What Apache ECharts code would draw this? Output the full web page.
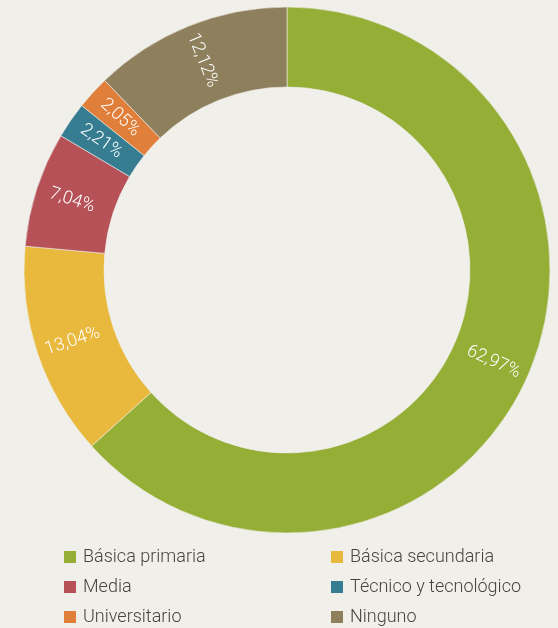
<!DOCTYPE html>
<html><head><meta charset="utf-8">
<script src="https://cdn.jsdelivr.net/npm/echarts@6/dist/echarts.min.js"></script>
<style>html,body{margin:0;padding:0;background:#f0efea}#c{width:558px;height:628px}</style>
</head><body><div id="c"></div>
<script>
const categories = ['Básica primaria','Básica secundaria','Media','Técnico y tecnológico','Universitario','Ninguno'];
const values = [62.97, 13.04, 7.04, 2.21, 2.05, 12.12];
const colors = ['#95ae36','#e8b93c','#b65257','#367d92','#e07f3a','#8e805c'];
const leftLegend = ['Básica primaria','Media','Universitario'];
const rightLegend = ['Básica secundaria','Técnico y tecnológico','Ninguno'];
const FONT = 'Roboto,sans-serif';
const chart = echarts.init(document.getElementById('c'));
const legendBase = {orient:'vertical', top:548, height:120, padding:0, itemWidth:14, itemHeight:14, itemGap:12, icon:'rect',
  textStyle:{fontFamily:FONT, fontSize:18, fontWeight:300, color:'#48443b', padding:[0,0,0,1]}};
chart.setOption({
  backgroundColor:'#f0efea',
  color: colors,
  legend:[Object.assign({left:62, data:leftLegend}, legendBase), Object.assign({left:329, data:rightLegend}, legendBase)],
  series:[{
    type:'pie', center:[287,270], radius:[183,263], startAngle:90, clockwise:true,
    avoidLabelOverlap:false,
    itemStyle:{borderColor:'#f0efea', borderWidth:0.6},
    label:{show:true, position:'inside', rotate:'radial', color:'#ffffff', fontFamily:FONT, fontSize:18, fontWeight:300,
      formatter:p=>p.value.toFixed(2).replace('.',',')+'%'},
    labelLine:{show:false},
    emphasis:{disabled:true},
    data: categories.map((c,i)=>({name:c, value:values[i]}))
  }]
});
</script></body></html>
